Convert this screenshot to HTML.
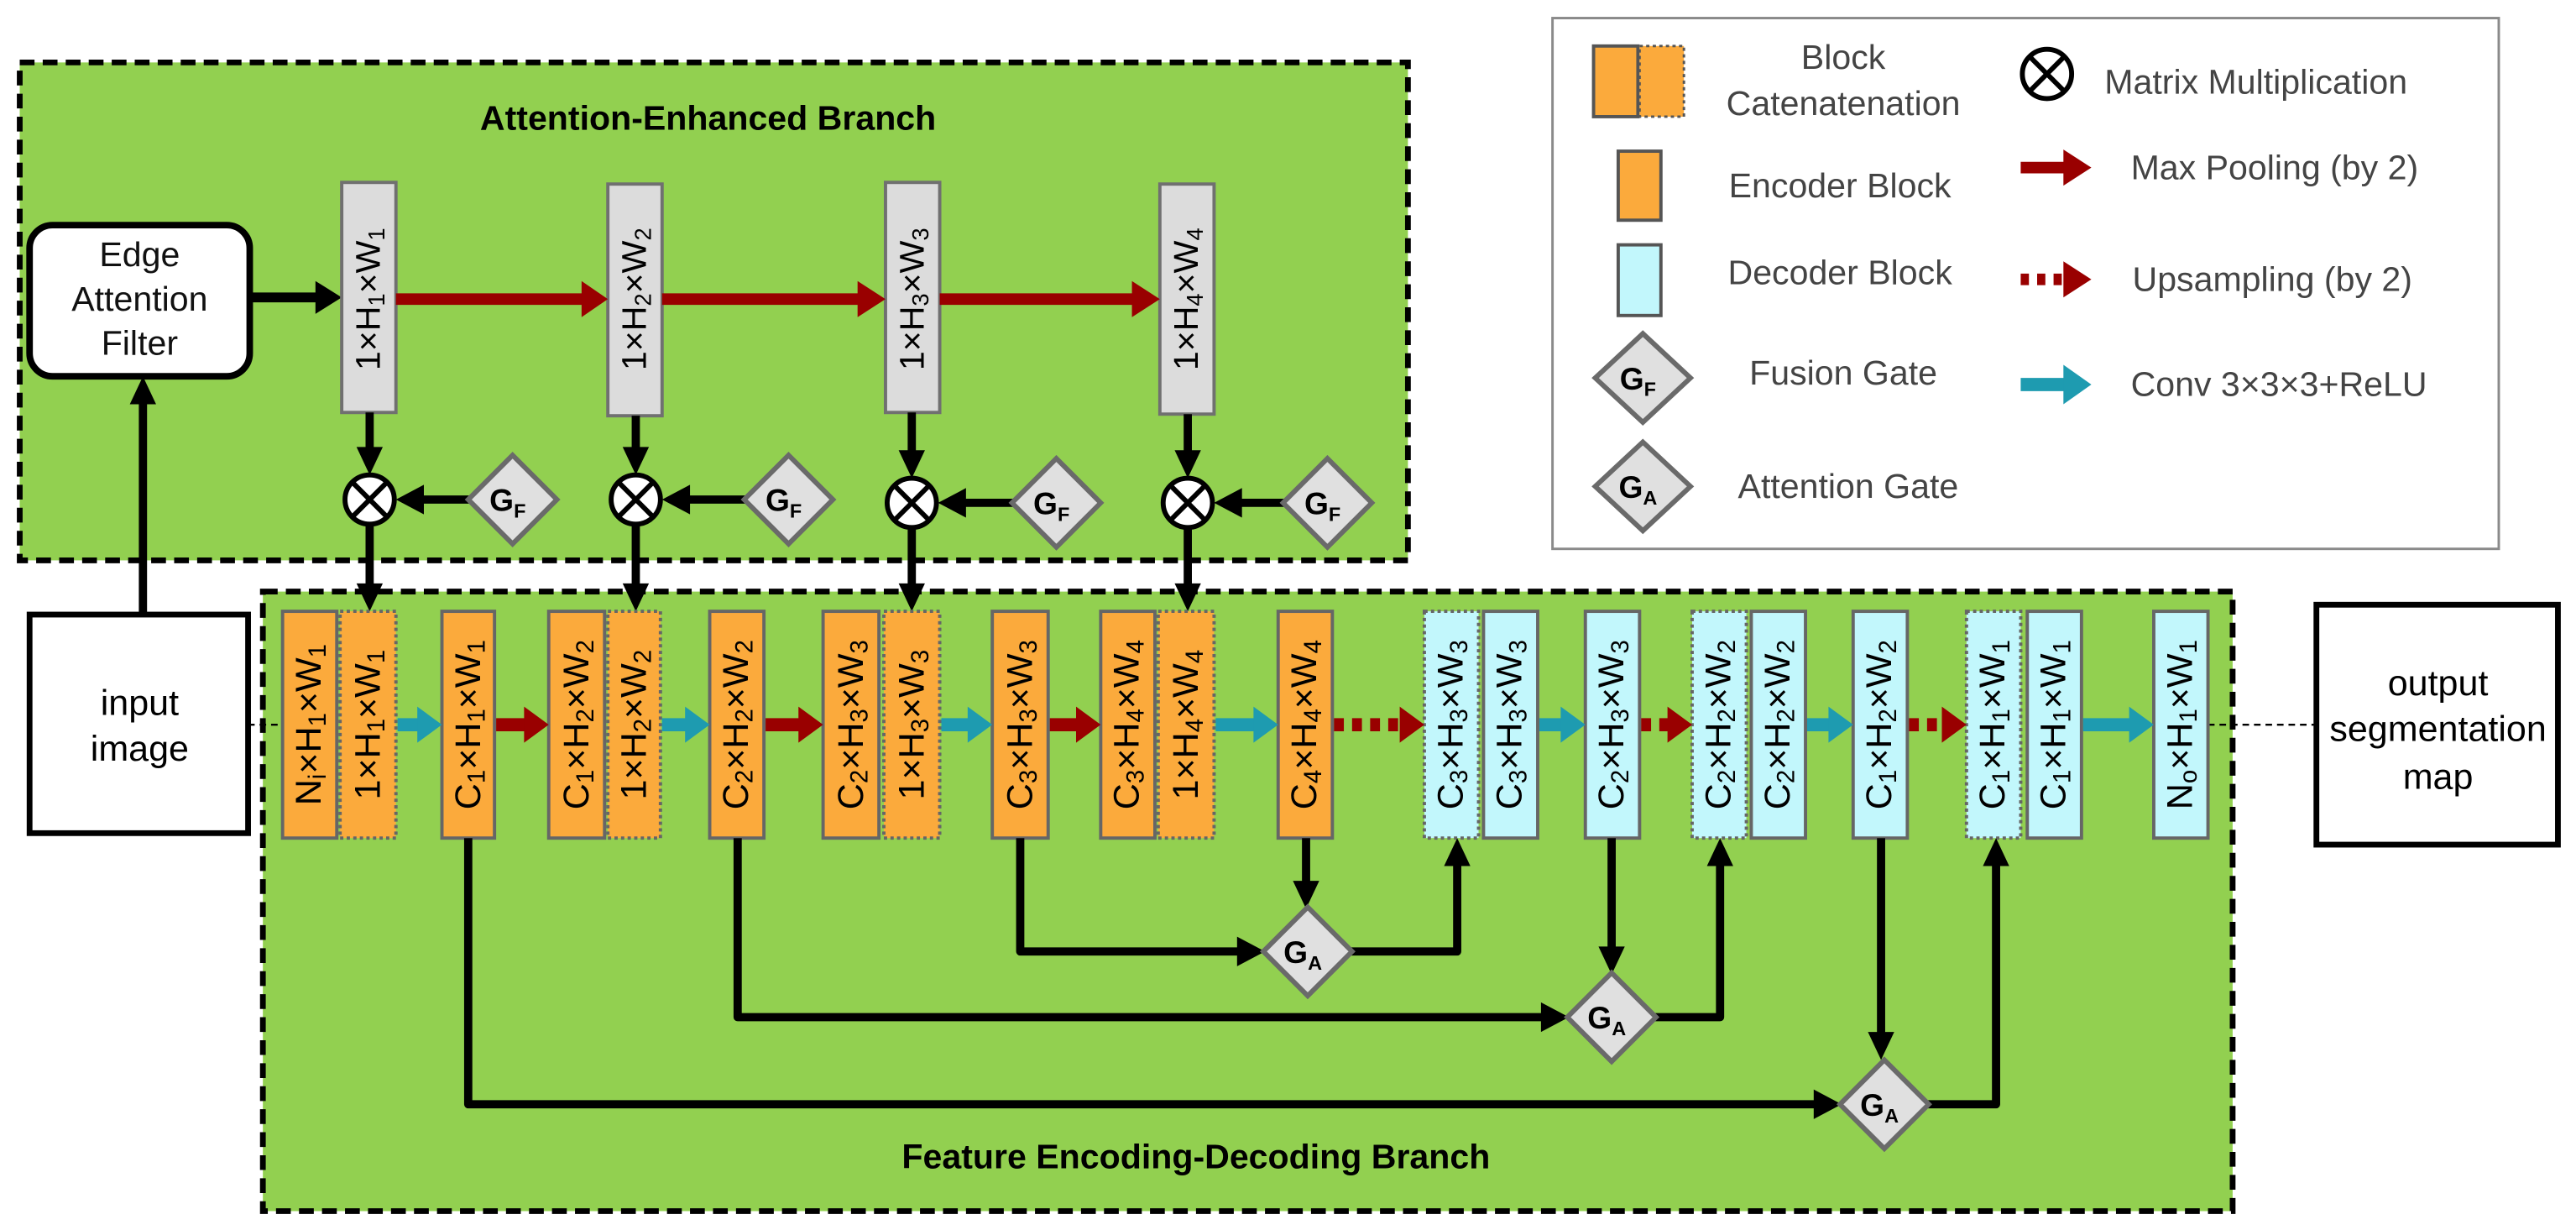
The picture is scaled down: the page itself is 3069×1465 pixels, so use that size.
<!DOCTYPE html>
<html><head><meta charset="utf-8"><style>
html,body{margin:0;padding:0;background:#fff;}
svg{display:block;}
text{font-family:"Liberation Sans",sans-serif;}
</style></head><body>
<svg width="3069" height="1465" viewBox="0 0 1568 748.5" xmlns="http://www.w3.org/2000/svg">
<!-- top green box -->
<rect x="12" y="38" width="845" height="303" fill="#92d050" stroke="#000" stroke-width="3.5" stroke-dasharray="9,5"/>
<text x="431" y="79" font-size="21" font-weight="bold" text-anchor="middle">Attention-Enhanced Branch</text>
<!-- bottom green box -->
<rect x="160" y="360" width="1199" height="377" fill="#92d050" stroke="#000" stroke-width="3.5" stroke-dasharray="9,5"/>
<text x="728" y="711" font-size="21" font-weight="bold" text-anchor="middle">Feature Encoding-Decoding Branch</text>

<!-- Edge attention filter -->
<rect x="18" y="137" width="134" height="92" rx="14" fill="#fff" stroke="#000" stroke-width="4"/>
<g font-size="21" text-anchor="middle" fill="#111"><text x="85" y="162">Edge</text><text x="85" y="189">Attention</text><text x="85" y="216">Filter</text></g>
<line x1="152" y1="181" x2="194" y2="181" stroke="#000" stroke-width="6"/>
<polygon points="192,171 208,181 192,191" fill="#000"/>

<!-- input / output -->
<rect x="18" y="374" width="133" height="133" fill="#fff" stroke="#000" stroke-width="3.5"/>
<g font-size="22" text-anchor="middle"><text x="85" y="435">input</text><text x="85" y="463">image</text></g>
<rect x="1410" y="368" width="147" height="146" fill="#fff" stroke="#000" stroke-width="3.5"/>
<g font-size="22" text-anchor="middle"><text x="1484" y="423">output</text><text x="1484" y="451">segmentation</text><text x="1484" y="480">map</text></g>
<line x1="151" y1="441" x2="172" y2="441" stroke="#000" stroke-width="1.2" stroke-dasharray="4,3"/>
<line x1="1344" y1="441" x2="1410" y2="441" stroke="#000" stroke-width="1.2" stroke-dasharray="4,3"/>

<!-- input to filter -->
<line x1="87" y1="374" x2="87" y2="244" stroke="#000" stroke-width="5"/>
<polygon points="79,246 95,246 87,229" fill="#000"/>

<!-- top gray blocks -->
<g fill="#dcdcdc" stroke="#707070" stroke-width="2">
<rect x="208" y="111" width="33" height="140"/>
<rect x="370" y="112" width="33" height="141"/>
<rect x="539" y="111" width="33" height="140"/>
<rect x="706" y="112" width="33" height="140"/>
</g>
<g font-size="21" text-anchor="middle" dominant-baseline="central">
<text x="224" y="182" transform="rotate(-90 224 182)">1×H<tspan font-size="14" dy="5">1</tspan><tspan dy="-5">×W</tspan><tspan font-size="14" dy="5">1</tspan></text>
<text x="386" y="182" transform="rotate(-90 386 182)">1×H<tspan font-size="14" dy="5">2</tspan><tspan dy="-5">×W</tspan><tspan font-size="14" dy="5">2</tspan></text>
<text x="555" y="182" transform="rotate(-90 555 182)">1×H<tspan font-size="14" dy="5">3</tspan><tspan dy="-5">×W</tspan><tspan font-size="14" dy="5">3</tspan></text>
<text x="722" y="182" transform="rotate(-90 722 182)">1×H<tspan font-size="14" dy="5">4</tspan><tspan dy="-5">×W</tspan><tspan font-size="14" dy="5">4</tspan></text>
</g>
<!-- red arrows top -->
<g stroke="#990000" stroke-width="7">
<line x1="241" y1="182" x2="356" y2="182"/><line x1="403" y1="182" x2="524" y2="182"/><line x1="572" y1="182" x2="691" y2="182"/>
</g>
<g fill="#990000">
<polygon points="354,171 370,182 354,193"/><polygon points="522,171 539,182 522,193"/><polygon points="689,171 706,182 689,193"/>
</g>

<!-- otimes, GF, connectors -->
<g stroke="#000" stroke-width="5">
<line x1="225" y1="251" x2="225" y2="275"/><line x1="387" y1="253" x2="387" y2="275"/><line x1="555" y1="251" x2="555" y2="277"/><line x1="723" y1="252" x2="723" y2="277"/>
<line x1="225" y1="318" x2="225" y2="357"/><line x1="387" y1="318" x2="387" y2="357"/><line x1="555" y1="320" x2="555" y2="357"/><line x1="723" y1="320" x2="723" y2="357"/>
<line x1="286" y1="304" x2="254" y2="304"/><line x1="454" y1="304" x2="416" y2="304"/><line x1="617" y1="306" x2="584" y2="306"/><line x1="782" y1="306" x2="752" y2="306"/>
</g>
<g fill="#000">
<polygon points="217,272 233,272 225,289"/><polygon points="379,272 395,272 387,289"/><polygon points="547,274 563,274 555,291"/><polygon points="715,274 731,274 723,291"/>
<polygon points="217,355 233,355 225,372"/><polygon points="379,355 395,355 387,372"/><polygon points="547,355 563,355 555,372"/><polygon points="715,355 731,355 723,372"/>
<polygon points="258,295 241,304 258,313"/><polygon points="420,295 403,304 420,313"/><polygon points="588,297 571,306 588,315"/><polygon points="756,297 739,306 756,315"/>
</g>
<g fill="#fff" stroke="#000" stroke-width="3">
<circle cx="225" cy="304" r="15"/><circle cx="387" cy="304" r="15"/><circle cx="555" cy="306" r="15"/><circle cx="723" cy="306" r="15"/>
</g>
<g stroke="#000" stroke-width="3">
<path d="M214.4 293.4L235.6 314.6M235.6 293.4L214.4 314.6"/><path d="M376.4 293.4L397.6 314.6M397.6 293.4L376.4 314.6"/>
<path d="M544.4 295.4L565.6 316.6M565.6 295.4L544.4 316.6"/><path d="M712.4 295.4L733.6 316.6M733.6 295.4L712.4 316.6"/>
</g>
<g fill="#e0e0e0" stroke="#6a6a6a" stroke-width="3">
<polygon points="312,277 339,304 312,331 285,304"/><polygon points="480,277 507,304 480,331 453,304"/>
<polygon points="643,279 670,306 643,333 616,306"/><polygon points="808,279 835,306 808,333 781,306"/>
</g>
<g font-size="19" font-weight="bold" text-anchor="middle">
<text x="309" y="311">G<tspan font-size="12" dy="4">F</tspan></text><text x="477" y="311">G<tspan font-size="12" dy="4">F</tspan></text>
<text x="640" y="313">G<tspan font-size="12" dy="4">F</tspan></text><text x="805" y="313">G<tspan font-size="12" dy="4">F</tspan></text>
</g>

<!-- bottom blocks -->
<g stroke="#666" stroke-width="2">
<rect x="172" y="372" width="33" height="138" fill="#fbaa3c"/>
<rect x="207" y="372" width="34" height="138" fill="#fbaa3c" stroke-dasharray="2,2"/>
<rect x="269" y="372" width="32" height="138" fill="#fbaa3c"/>
<rect x="334" y="372" width="34" height="138" fill="#fbaa3c"/>
<rect x="370" y="372" width="32" height="138" fill="#fbaa3c" stroke-dasharray="2,2"/>
<rect x="432" y="372" width="33" height="138" fill="#fbaa3c"/>
<rect x="501" y="372" width="34" height="138" fill="#fbaa3c"/>
<rect x="538" y="372" width="34" height="138" fill="#fbaa3c" stroke-dasharray="2,2"/>
<rect x="604" y="372" width="34" height="138" fill="#fbaa3c"/>
<rect x="670" y="372" width="33" height="138" fill="#fbaa3c"/>
<rect x="705" y="372" width="34" height="138" fill="#fbaa3c" stroke-dasharray="2,2"/>
<rect x="778" y="372" width="33" height="138" fill="#fbaa3c"/>
<rect x="867" y="372" width="33" height="138" fill="#c2f7fc" stroke-dasharray="2,2"/>
<rect x="903" y="372" width="33" height="138" fill="#c2f7fc"/>
<rect x="965" y="372" width="33" height="138" fill="#c2f7fc"/>
<rect x="1030" y="372" width="33" height="138" fill="#c2f7fc" stroke-dasharray="2,2"/>
<rect x="1066" y="372" width="33" height="138" fill="#c2f7fc"/>
<rect x="1128" y="372" width="33" height="138" fill="#c2f7fc"/>
<rect x="1197" y="372" width="33" height="138" fill="#c2f7fc" stroke-dasharray="2,2"/>
<rect x="1234" y="372" width="33" height="138" fill="#c2f7fc"/>
<rect x="1311" y="372" width="33" height="138" fill="#c2f7fc"/>
</g>
<g font-size="22" text-anchor="middle" dominant-baseline="central">
<text x="188" y="441" transform="rotate(-90 188 441)">N<tspan font-size="15" dy="5">i</tspan><tspan dy="-5">×H</tspan><tspan font-size="15" dy="5">1</tspan><tspan dy="-5">×W</tspan><tspan font-size="15" dy="5">1</tspan></text>
<text x="224" y="441" transform="rotate(-90 224 441)">1×H<tspan font-size="15" dy="5">1</tspan><tspan dy="-5">×W</tspan><tspan font-size="15" dy="5">1</tspan></text>
<text x="285" y="441" transform="rotate(-90 285 441)">C<tspan font-size="15" dy="5">1</tspan><tspan dy="-5">×H</tspan><tspan font-size="15" dy="5">1</tspan><tspan dy="-5">×W</tspan><tspan font-size="15" dy="5">1</tspan></text>
<text x="351" y="441" transform="rotate(-90 351 441)">C<tspan font-size="15" dy="5">1</tspan><tspan dy="-5">×H</tspan><tspan font-size="15" dy="5">2</tspan><tspan dy="-5">×W</tspan><tspan font-size="15" dy="5">2</tspan></text>
<text x="386" y="441" transform="rotate(-90 386 441)">1×H<tspan font-size="15" dy="5">2</tspan><tspan dy="-5">×W</tspan><tspan font-size="15" dy="5">2</tspan></text>
<text x="448" y="441" transform="rotate(-90 448 441)">C<tspan font-size="15" dy="5">2</tspan><tspan dy="-5">×H</tspan><tspan font-size="15" dy="5">2</tspan><tspan dy="-5">×W</tspan><tspan font-size="15" dy="5">2</tspan></text>
<text x="518" y="441" transform="rotate(-90 518 441)">C<tspan font-size="15" dy="5">2</tspan><tspan dy="-5">×H</tspan><tspan font-size="15" dy="5">3</tspan><tspan dy="-5">×W</tspan><tspan font-size="15" dy="5">3</tspan></text>
<text x="555" y="441" transform="rotate(-90 555 441)">1×H<tspan font-size="15" dy="5">3</tspan><tspan dy="-5">×W</tspan><tspan font-size="15" dy="5">3</tspan></text>
<text x="621" y="441" transform="rotate(-90 621 441)">C<tspan font-size="15" dy="5">3</tspan><tspan dy="-5">×H</tspan><tspan font-size="15" dy="5">3</tspan><tspan dy="-5">×W</tspan><tspan font-size="15" dy="5">3</tspan></text>
<text x="686" y="441" transform="rotate(-90 686 441)">C<tspan font-size="15" dy="5">3</tspan><tspan dy="-5">×H</tspan><tspan font-size="15" dy="5">4</tspan><tspan dy="-5">×W</tspan><tspan font-size="15" dy="5">4</tspan></text>
<text x="722" y="441" transform="rotate(-90 722 441)">1×H<tspan font-size="15" dy="5">4</tspan><tspan dy="-5">×W</tspan><tspan font-size="15" dy="5">4</tspan></text>
<text x="794" y="441" transform="rotate(-90 794 441)">C<tspan font-size="15" dy="5">4</tspan><tspan dy="-5">×H</tspan><tspan font-size="15" dy="5">4</tspan><tspan dy="-5">×W</tspan><tspan font-size="15" dy="5">4</tspan></text>
<text x="883" y="441" transform="rotate(-90 883 441)">C<tspan font-size="15" dy="5">3</tspan><tspan dy="-5">×H</tspan><tspan font-size="15" dy="5">3</tspan><tspan dy="-5">×W</tspan><tspan font-size="15" dy="5">3</tspan></text>
<text x="919" y="441" transform="rotate(-90 919 441)">C<tspan font-size="15" dy="5">3</tspan><tspan dy="-5">×H</tspan><tspan font-size="15" dy="5">3</tspan><tspan dy="-5">×W</tspan><tspan font-size="15" dy="5">3</tspan></text>
<text x="981" y="441" transform="rotate(-90 981 441)">C<tspan font-size="15" dy="5">2</tspan><tspan dy="-5">×H</tspan><tspan font-size="15" dy="5">3</tspan><tspan dy="-5">×W</tspan><tspan font-size="15" dy="5">3</tspan></text>
<text x="1046" y="441" transform="rotate(-90 1046 441)">C<tspan font-size="15" dy="5">2</tspan><tspan dy="-5">×H</tspan><tspan font-size="15" dy="5">2</tspan><tspan dy="-5">×W</tspan><tspan font-size="15" dy="5">2</tspan></text>
<text x="1082" y="441" transform="rotate(-90 1082 441)">C<tspan font-size="15" dy="5">2</tspan><tspan dy="-5">×H</tspan><tspan font-size="15" dy="5">2</tspan><tspan dy="-5">×W</tspan><tspan font-size="15" dy="5">2</tspan></text>
<text x="1144" y="441" transform="rotate(-90 1144 441)">C<tspan font-size="15" dy="5">1</tspan><tspan dy="-5">×H</tspan><tspan font-size="15" dy="5">2</tspan><tspan dy="-5">×W</tspan><tspan font-size="15" dy="5">2</tspan></text>
<text x="1213" y="441" transform="rotate(-90 1213 441)">C<tspan font-size="15" dy="5">1</tspan><tspan dy="-5">×H</tspan><tspan font-size="15" dy="5">1</tspan><tspan dy="-5">×W</tspan><tspan font-size="15" dy="5">1</tspan></text>
<text x="1250" y="441" transform="rotate(-90 1250 441)">C<tspan font-size="15" dy="5">1</tspan><tspan dy="-5">×H</tspan><tspan font-size="15" dy="5">1</tspan><tspan dy="-5">×W</tspan><tspan font-size="15" dy="5">1</tspan></text>
<text x="1327" y="441" transform="rotate(-90 1327 441)">N<tspan font-size="15" dy="5">o</tspan><tspan dy="-5">×H</tspan><tspan font-size="15" dy="5">1</tspan><tspan dy="-5">×W</tspan><tspan font-size="15" dy="5">1</tspan></text>
</g>

<!-- horizontal arrows bottom row -->
<g stroke-width="8">
<line x1="242" y1="441" x2="256" y2="441" stroke="#1e9bb0"/>
<line x1="302" y1="441" x2="321" y2="441" stroke="#990000"/>
<line x1="403" y1="441" x2="419" y2="441" stroke="#1e9bb0"/>
<line x1="466" y1="441" x2="488" y2="441" stroke="#990000"/>
<line x1="573" y1="441" x2="591" y2="441" stroke="#1e9bb0"/>
<line x1="639" y1="441" x2="657" y2="441" stroke="#990000"/>
<line x1="740" y1="441" x2="765" y2="441" stroke="#1e9bb0"/>
<line x1="812" y1="441" x2="852" y2="441" stroke="#990000" stroke-dasharray="6,5"/>
<line x1="937" y1="441" x2="952" y2="441" stroke="#1e9bb0"/>
<line x1="999" y1="441" x2="1017" y2="441" stroke="#990000" stroke-dasharray="6,5"/>
<line x1="1100" y1="441" x2="1115" y2="441" stroke="#1e9bb0"/>
<line x1="1162" y1="441" x2="1184" y2="441" stroke="#990000" stroke-dasharray="6,5"/>
<line x1="1268" y1="441" x2="1298" y2="441" stroke="#1e9bb0"/>
</g>
<g>
<polygon points="254,430 269,441 254,452" fill="#1e9bb0"/>
<polygon points="319,430 334,441 319,452" fill="#990000"/>
<polygon points="417,430 432,441 417,452" fill="#1e9bb0"/>
<polygon points="486,430 501,441 486,452" fill="#990000"/>
<polygon points="589,430 604,441 589,452" fill="#1e9bb0"/>
<polygon points="655,430 670,441 655,452" fill="#990000"/>
<polygon points="763,430 778,441 763,452" fill="#1e9bb0"/>
<polygon points="852,430 867,441 852,452" fill="#990000"/>
<polygon points="950,430 965,441 950,452" fill="#1e9bb0"/>
<polygon points="1015,430 1030,441 1015,452" fill="#990000"/>
<polygon points="1113,430 1128,441 1113,452" fill="#1e9bb0"/>
<polygon points="1182,430 1197,441 1182,452" fill="#990000"/>
<polygon points="1296,430 1311,441 1296,452" fill="#1e9bb0"/>
</g>

<!-- skip connections -->
<g fill="none" stroke="#000" stroke-width="5" stroke-linejoin="round">
<path d="M285 510 V672 H1106"/>
<path d="M449 510 V619 H940"/>
<path d="M621 510 V579 H755"/>
<path d="M795 510 V538"/>
<path d="M981 510 V578"/>
<path d="M1145 510 V630"/>
<path d="M821 579 H887 V525"/>
<path d="M1006 619 H1047 V525"/>
<path d="M1172 672 H1215 V525"/>
</g>
<g fill="#000">
<polygon points="1104,663 1121,672 1104,681"/>
<polygon points="938,610 955,619 938,628"/>
<polygon points="753,570 770,579 753,588"/>
<polygon points="787,536 803,536 795,553"/>
<polygon points="973,576 989,576 981,593"/>
<polygon points="1137,628 1153,628 1145,645"/>
<polygon points="879,527 895,527 887,510"/>
<polygon points="1039,527 1055,527 1047,510"/>
<polygon points="1207,527 1223,527 1215,510"/>
</g>
<g fill="#e0e0e0" stroke="#6a6a6a" stroke-width="3">
<polygon points="796,552 823,579 796,606 769,579"/>
<polygon points="981,592 1008,619 981,646 954,619"/>
<polygon points="1147,645 1174,672 1147,699 1120,672"/>
</g>
<g font-size="19" font-weight="bold" text-anchor="middle">
<text x="793" y="586">G<tspan font-size="12" dy="4">A</tspan></text>
<text x="978" y="626">G<tspan font-size="12" dy="4">A</tspan></text>
<text x="1144" y="679">G<tspan font-size="12" dy="4">A</tspan></text>
</g>

<!-- legend -->
<rect x="945" y="11" width="576" height="323" fill="#fff" stroke="#8a8a8a" stroke-width="1.5"/>
<rect x="970" y="28" width="27" height="43" fill="#fbaa3c" stroke="#555" stroke-width="2"/>
<rect x="998" y="28" width="27" height="43" fill="#fbaa3c" stroke="#555" stroke-width="1.5" stroke-dasharray="2,2"/>
<rect x="985" y="92" width="26" height="42" fill="#fbaa3c" stroke="#555" stroke-width="2"/>
<rect x="985" y="149" width="26" height="43" fill="#c2f7fc" stroke="#555" stroke-width="2"/>
<polygon points="1000,203 1029,230 1000,257 971,230" fill="#e0e0e0" stroke="#6a6a6a" stroke-width="3"/>
<polygon points="1000,269 1029,296 1000,323 971,296" fill="#e0e0e0" stroke="#6a6a6a" stroke-width="3"/>
<g font-size="19" font-weight="bold" text-anchor="middle">
<text x="997" y="237">G<tspan font-size="12" dy="4">F</tspan></text>
<text x="997" y="303">G<tspan font-size="12" dy="4">A</tspan></text>
</g>
<circle cx="1246" cy="45" r="15" fill="#fff" stroke="#000" stroke-width="3"/>
<path d="M1235.4 34.4L1256.6 55.6M1256.6 34.4L1235.4 55.6" stroke="#000" stroke-width="3"/>
<line x1="1230" y1="102" x2="1258" y2="102" stroke="#990000" stroke-width="7"/>
<polygon points="1256,91 1273,102 1256,113" fill="#990000"/>
<line x1="1230" y1="170" x2="1256" y2="170" stroke="#990000" stroke-width="7" stroke-dasharray="5,5"/>
<polygon points="1256,159 1273,170 1256,181" fill="#990000"/>
<line x1="1230" y1="234" x2="1258" y2="234" stroke="#1e9bb0" stroke-width="8"/>
<polygon points="1256,222 1273,234 1256,246" fill="#1e9bb0"/>
<g font-size="21" fill="#444">
<text x="1122" y="42" text-anchor="middle">Block</text>
<text x="1122" y="70" text-anchor="middle">Catenatenation</text>
<text x="1120" y="120" text-anchor="middle">Encoder Block</text>
<text x="1120" y="173" text-anchor="middle">Decoder Block</text>
<text x="1122" y="234" text-anchor="middle">Fusion Gate</text>
<text x="1125" y="303" text-anchor="middle">Attention Gate</text>
<text x="1281" y="57">Matrix Multiplication</text>
<text x="1297" y="109">Max Pooling (by 2)</text>
<text x="1298" y="177">Upsampling (by 2)</text>
<text x="1297" y="241">Conv 3×3×3+ReLU</text>
</g>
</svg>
</body></html>
